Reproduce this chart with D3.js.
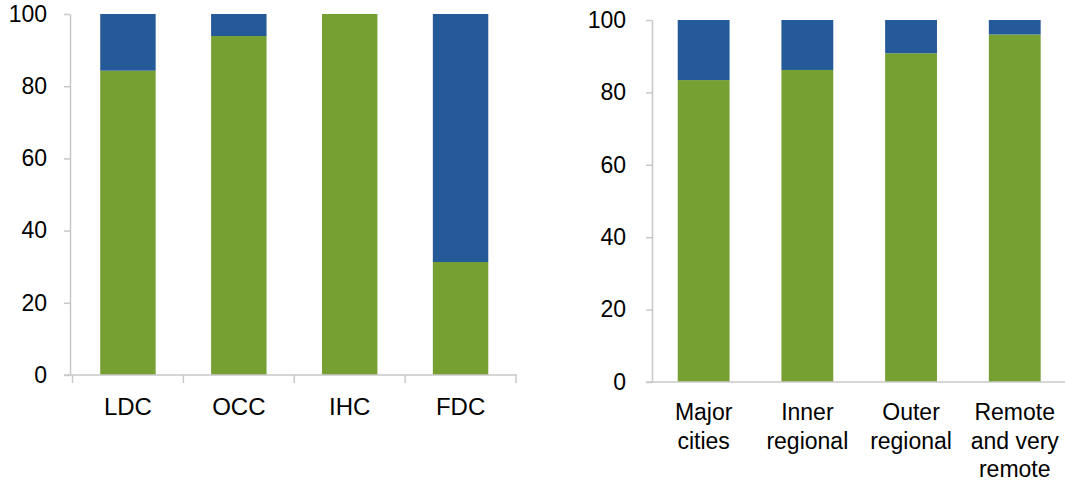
<!DOCTYPE html>
<html><head><meta charset="utf-8">
<script src="https://cdn.jsdelivr.net/npm/d3@7/dist/d3.min.js"></script>
<style>body{margin:0;background:#fff}svg{display:block;font-family:"Liberation Sans",Arial,sans-serif}</style>
</head><body><svg id="c" width="1065" height="484"></svg>
<script>
const leftCats = ["LDC","OCC","IHC","FDC"];
const leftGreen = [84.3, 93.9, 100, 31.3];
const rightCats = ["Major cities","Inner regional","Outer regional","Remote and very remote"];
const rightLabels = [["Major","cities"],["Inner","regional"],["Outer","regional"],["Remote","and very","remote"]];
const rightGreen = [83.4, 86.2, 90.8, 96.0];
const yTicks = [0,20,40,60,80,100];
const GREEN = "#77A033", BLUE = "#255A99", AXIS = "#C8C8C8";

const svg = d3.select("#c");

function panel(cfg){
  const g = svg.append("g");
  const y = d3.scaleLinear().domain([0,100]).range([cfg.y0, cfg.y1]);
  const x = d3.scaleBand().domain(cfg.cats).range([cfg.x0, cfg.x1]).paddingInner(0.5).paddingOuter(0.25);
  cfg.cats.forEach((c,i)=>{
    const v = cfg.green[i];
    g.append("rect").attr("x", x(c)).attr("width", x.bandwidth())
      .attr("y", y(v)).attr("height", y(0)-y(v)).attr("fill", GREEN);
    if (v < 100) g.append("rect").attr("x", x(c)).attr("width", x.bandwidth())
      .attr("y", y(100)).attr("height", y(v)-y(100)).attr("fill", BLUE);
  });
  const ya = g.append("g").attr("transform", `translate(${cfg.axX},0)`)
    .call(d3.axisLeft(y).tickValues(yTicks).tickSize(6).tickSizeOuter(0).tickPadding(cfg.pad));
  ya.select(".domain").attr("stroke", AXIS).attr("stroke-width", 1.5);
  ya.selectAll(".tick line").attr("stroke", AXIS).attr("stroke-width", 1.5);
  ya.selectAll(".tick text").attr("font-size", 23).attr("fill", "#000").attr("font-family","Liberation Sans, Arial, sans-serif");
  g.append("line").attr("x1", cfg.axX-6).attr("x2", cfg.xEnd).attr("y1", y(0)).attr("y2", y(0))
    .attr("stroke", AXIS).attr("stroke-width", 1.5);
  if (cfg.xTicks){
    const step = x.step();
    const first = x(cfg.cats[0]) - (step - x.bandwidth())/2;
    for (let i=0;i<=cfg.cats.length;i++){
      const bx = first + i*step;
      g.append("line").attr("x1", bx).attr("x2", bx).attr("y1", y(0)).attr("y2", y(0)+8)
        .attr("stroke", AXIS).attr("stroke-width", 1.5);
    }
  }
  cfg.labels.forEach((lines,i)=>{
    const cx = x(cfg.cats[i]) + x.bandwidth()/2;
    const t = g.append("text").attr("text-anchor","middle").attr("font-size", cfg.lfs).attr("fill","#000");
    lines.forEach((l,j)=>t.append("tspan").attr("x", cx).attr("y", cfg.ly + j*28.5).text(l));
  });
}

panel({cats:leftCats, green:leftGreen, labels:leftCats.map(c=>[c]), y0:375, y1:14,
  x0:72.5, x1:516, axX:70, xEnd:517, pad:17, xTicks:true, ly:415, lfs:24});
panel({cats:rightCats, green:rightGreen, labels:rightLabels, y0:382, y1:20,
  x0:651.8, x1:1066.6, axX:652, xEnd:1065, pad:20, xTicks:false, ly:420, lfs:23});
</script></body></html>
